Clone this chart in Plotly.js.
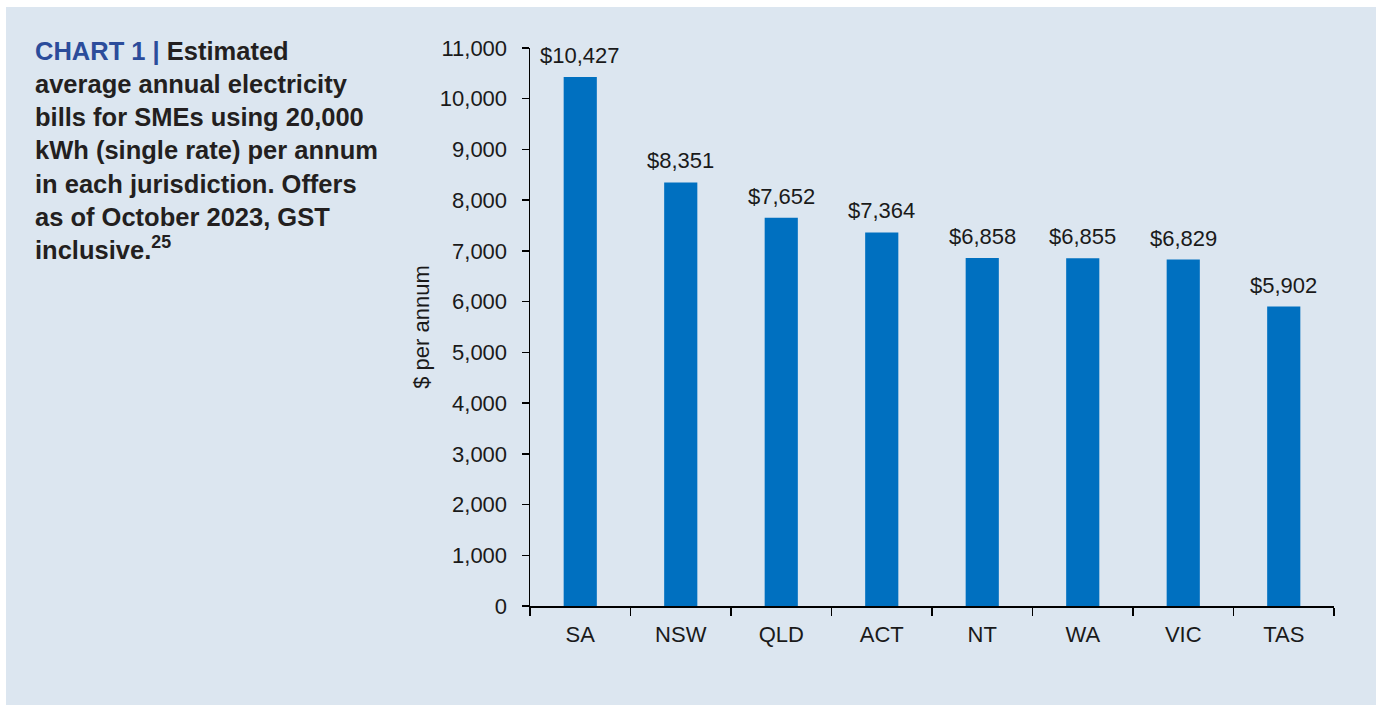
<!DOCTYPE html>
<html>
<head>
<meta charset="utf-8">
<script src="https://cdn.plot.ly/plotly-3.0.1.min.js"></script>
<style>
html,body{margin:0;padding:0;background:#ffffff;}
#bg{position:absolute;left:6px;top:7px;width:1370px;height:698px;background:#dce6f0;}
#chart{position:absolute;left:0;top:0;width:1380px;height:706px;}
</style>
</head>
<body>
<div id="bg"></div>
<div id="chart"></div>
<script>
const categories = ["SA", "NSW", "QLD", "ACT", "NT", "WA", "VIC", "TAS"];
const bills = [10427, 8351, 7652, 7364, 6858, 6855, 6829, 5902];
const yTickValues = [0,1000,2000,3000,4000,5000,6000,7000,8000,9000,10000,11000];

const FONT = '"Liberation Sans", Arial, Helvetica, sans-serif';
const FS = 22;

const trace = {
  type: 'bar',
  x: categories,
  y: bills,
  marker: {color: '#0070c0'},
  hoverinfo: 'skip'
};

const annotations = categories.map((c, i) => ({
  x: c, y: bills[i], xref: 'x', yref: 'y',
  text: '$' + bills[i].toLocaleString('en-US'),
  showarrow: false, yanchor: 'bottom', yshift: 7,
  font: {family: FONT, size: FS, color: '#1a1a1a'}
}));

const layout = {
  width: 1380, height: 706,
  paper_bgcolor: 'rgba(0,0,0,0)',
  plot_bgcolor: 'rgba(0,0,0,0)',
  margin: {l: 530, r: 46, t: 48, b: 100},
  bargap: 0.67,
  showlegend: false,
  font: {family: FONT, size: FS, color: '#1a1a1a'},
  title: {
    text: '<span style="color:#2b4c9b">CHART 1 | </span>Estimated<br>average annual electricity<br>bills for SMEs using 20,000<br>kWh (single rate) per annum<br>in each jurisdiction. Offers<br>as of October 2023, GST<br>inclusive.<sup>25</sup>',
    font: {family: FONT, size: 25.5, color: '#231f20', weight: 'bold'},
    x: 35/1380, xanchor: 'left', xref: 'container',
    y: 1 - 60/706, yanchor: 'top', yref: 'container'
  },
  xaxis: {
    type: 'category',
    showline: true, linecolor: '#000', linewidth: 1.5,
    ticks: 'outside', tickson: 'boundaries', ticklen: 8, tickcolor: '#000', tickwidth: 1.5,
    tickfont: {family: FONT, size: FS, color: '#1a1a1a'},
    ticklabelstandoff: 8,
    showgrid: false, zeroline: false, fixedrange: true
  },
  yaxis: {
    range: [0, 11000],
    tickvals: yTickValues,
    ticktext: yTickValues.map(v => v.toLocaleString('en-US')),
    showline: true, linecolor: '#000', linewidth: 1.5,
    ticks: 'outside', ticklen: 7, tickcolor: '#000', tickwidth: 1.5,
    tickfont: {family: FONT, size: FS, color: '#1a1a1a'},
    ticklabelstandoff: 10,
    showgrid: false, zeroline: false, fixedrange: true,
    title: {text: '$ per annum', font: {family: FONT, size: FS, color: '#1a1a1a'}, standoff: 4}
  },
  annotations: annotations
};

Plotly.newPlot('chart', [trace], layout, {displayModeBar: false, staticPlot: true});
</script>
</body>
</html>
